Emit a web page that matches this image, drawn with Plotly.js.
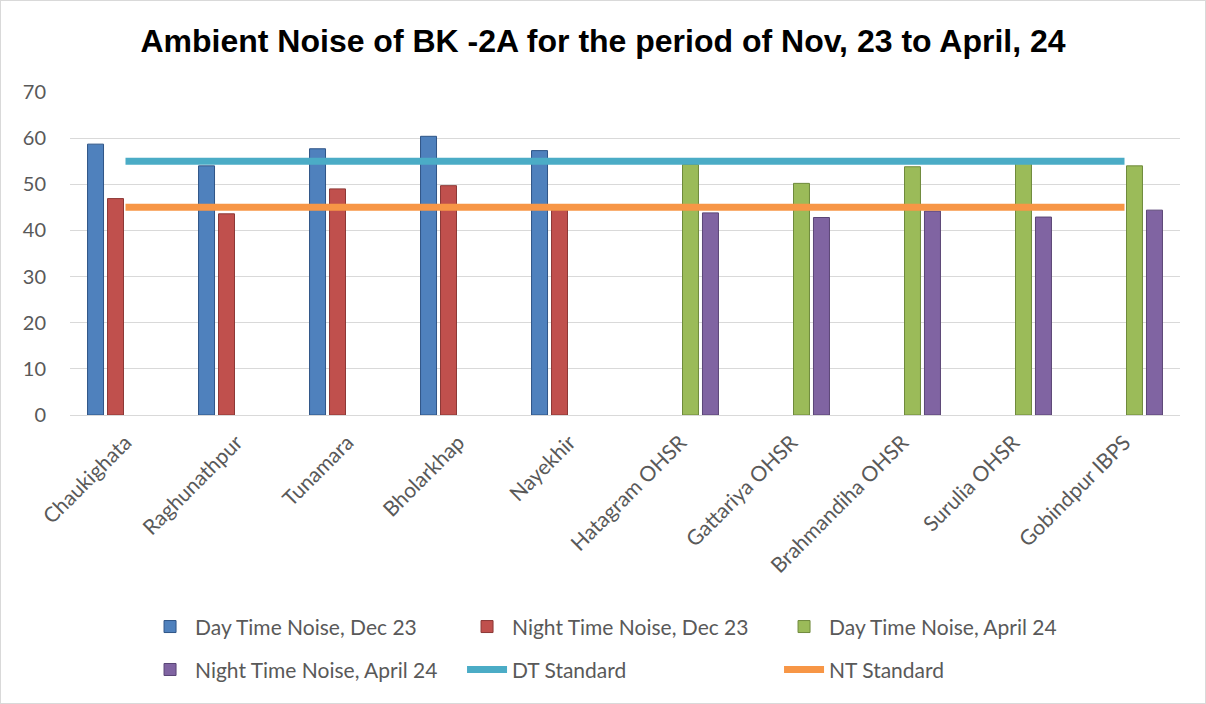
<!DOCTYPE html>
<html>
<head>
<meta charset="utf-8">
<script src="https://cdn.plot.ly/plotly-3.0.1.min.js"></script>
<style>
html,body{margin:0;padding:0;background:#fff;}
#chart{width:1206px;height:704px;box-sizing:border-box;border:1px solid #d9d9d9;}
</style>
</head>
<body>
<div id="chart"></div>
<script>
const categories = ["Chaukighata","Raghunathpur","Tunamara","Bholarkhap","Nayekhir","Hatagram OHSR","Gattariya OHSR","Brahmandiha OHSR","Surulia OHSR","Gobindpur IBPS"];
const dayDec23   = [58.7, 54.0, 57.7, 60.4, 57.3, null, null, null, null, null];
const nightDec23 = [46.9, 43.6, 49.0, 49.7, 44.4, null, null, null, null, null];
const dayApr24   = [null, null, null, null, null, 54.3, 50.2, 53.8, 54.5, 54.0];
const nightApr24 = [null, null, null, null, null, 43.8, 42.8, 44.2, 42.9, 44.4];
const dtStandard = [55, 55, 55, 55, 55, 55, 55, 55, 55, 55];
const ntStandard = [45, 45, 45, 45, 45, 45, 45, 45, 45, 45];
const yTicks = [0, 10, 20, 30, 40, 50, 60, 70];

function barTrace(name, y, color, line, legend) {
  return {type:'bar', name:name, x:categories, y:y, legend:legend,
    marker:{color:color, line:{color:line, width:1}}, hoverinfo:'y+name'};
}
const data = [
  barTrace('Day Time Noise, Dec 23', dayDec23, '#4F81BD', '#2f5587', 'legend'),
  barTrace('Night Time Noise, Dec 23', nightDec23, '#C0504D', '#8c3836', 'legend'),
  barTrace('Day Time Noise, April 24', dayApr24, '#9BBB59', '#6f8a3c', 'legend'),
  barTrace('Night Time Noise, April 24', nightApr24, '#8064A2', '#5a4576', 'legend2'),
  {type:'scatter', mode:'lines', name:'DT Standard', x:categories, y:dtStandard,
    legend:'legend2', line:{color:'#4BACC6', width:7}},
  {type:'scatter', mode:'lines', name:'NT Standard', x:categories, y:ntStandard,
    legend:'legend2', line:{color:'#F79646', width:7}}
];
const legendBase = {orientation:'h', x:0.0676, xanchor:'left', yanchor:'middle',
  entrywidth:262, entrywidthmode:'pixels', font:{size:21, color:'#595959'},
  itemwidth:40, traceorder:'normal', bgcolor:'rgba(0,0,0,0)'};
const layout = {
  width:1204, height:702,
  margin:{l:69, r:25, t:91, b:288},
  paper_bgcolor:'#fff', plot_bgcolor:'#fff',
  title:{text:'<b>Ambient Noise of BK -2A for the period of Nov, 23 to April, 24</b>',
    font:{family:'Liberation Sans, Arial, sans-serif', size:32, color:'#000'},
    x:0.5, xanchor:'center', yref:'container', y:0.944, yanchor:'middle'},
  barmode:'group', bargap:0.28, bargroupgap:0.2,
  font:{family:'Lato, Open Sans, sans-serif', color:'#595959'},
  xaxis:{type:'category', tickangle:-45, tickfont:{size:21, color:'#595959'},
    showgrid:false, showline:true, linecolor:'#d9d9d9', linewidth:1, ticks:'',
    zeroline:false, automargin:false, ticklabelstandoff:6},
  yaxis:{range:[0,70], tickvals:yTicks, tickfont:{size:20, color:'#595959'},
    showgrid:true, gridcolor:'#d9d9d9', gridwidth:1, zeroline:false, showline:false,
    ticks:'', ticklabelstandoff:23, automargin:false},
  showlegend:true,
  legend:Object.assign({}, legendBase, {y:-0.656}),
  legend2:Object.assign({}, legendBase, {y:-0.789})
};
Plotly.newPlot('chart', data, layout, {displayModeBar:false, staticPlot:true});
</script>
</body>
</html>
